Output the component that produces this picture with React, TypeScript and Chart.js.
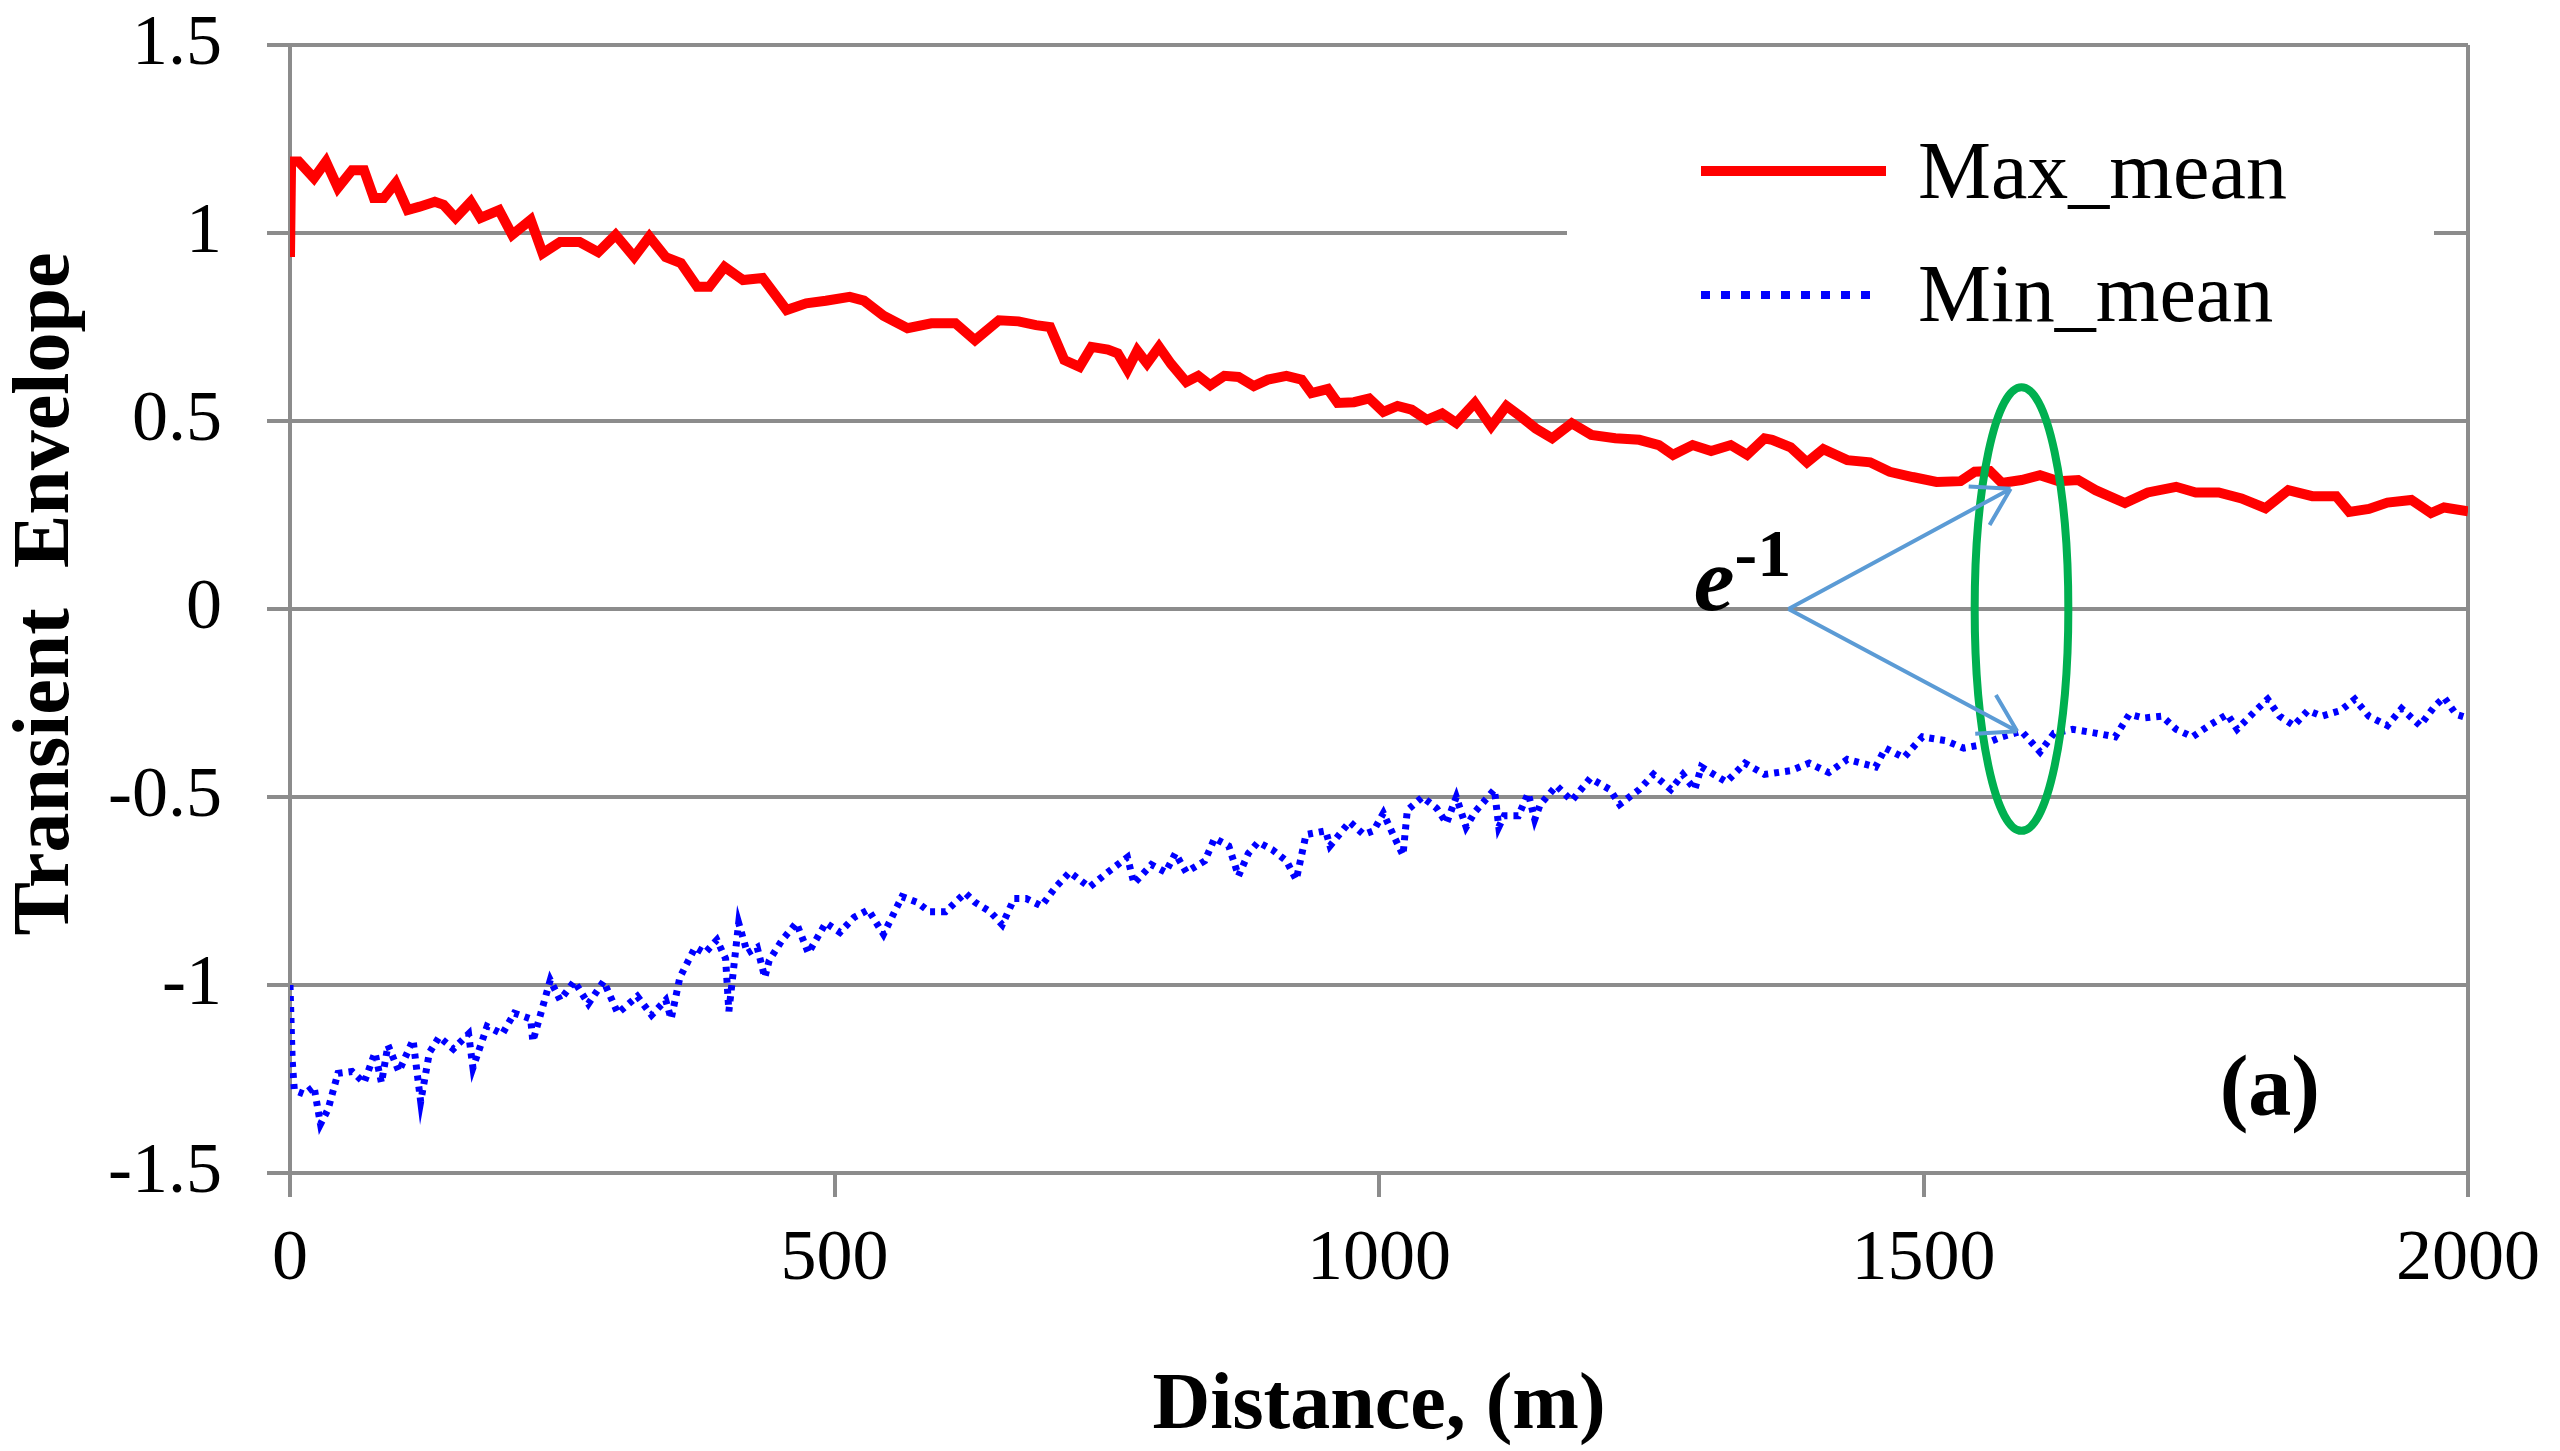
import React, { useEffect, useRef } from 'react';
import { Chart, registerables, Plugin } from 'chart.js';

Chart.register(...registerables);

// Max_mean envelope (distance in m, value)
const maxDist = [
  0, 1, 8, 22, 33, 44, 57, 68, 77, 86, 97, 108, 119, 133, 141, 152, 166, 175, 192, 204,
  221, 232, 248, 266, 283, 299, 316, 330, 345, 359, 374, 385, 399, 416, 434, 456, 474, 492, 514, 527,
  545, 567, 589, 611, 629, 651, 669, 685, 698, 711, 725, 736, 751, 760, 769, 778, 787, 798, 809, 823,
  834, 845, 858, 871, 885, 898, 915, 929, 938, 953, 962, 977, 991, 1004, 1017, 1030, 1044, 1058, 1071, 1088,
  1103, 1117, 1131, 1144, 1159, 1177, 1195, 1217, 1239, 1257, 1270, 1288, 1305, 1323, 1338, 1354, 1361, 1378, 1393, 1408,
  1430, 1451, 1469, 1490, 1512, 1534, 1547, 1561, 1572, 1590, 1607, 1624, 1642, 1658, 1685, 1706, 1732, 1750, 1771, 1792,
  1814, 1835, 1857, 1879, 1891, 1909, 1926, 1948, 1966, 1978, 2000,
];
const maxMean = [
  0.936, 1.19, 1.19, 1.146, 1.19, 1.12, 1.167, 1.167, 1.093, 1.093, 1.133, 1.061, 1.07, 1.083, 1.075, 1.04, 1.083, 1.04, 1.061, 0.995,
  1.035, 0.946, 0.976, 0.976, 0.949, 0.995, 0.936, 0.99, 0.936, 0.92, 0.857, 0.857, 0.91, 0.875, 0.88, 0.795, 0.813, 0.82, 0.83, 0.82,
  0.78, 0.747, 0.76, 0.76, 0.715, 0.768, 0.765, 0.755, 0.75, 0.662, 0.644, 0.697, 0.69, 0.68, 0.636, 0.687, 0.653, 0.697, 0.652, 0.604,
  0.62, 0.595, 0.62, 0.617, 0.593, 0.61, 0.62, 0.61, 0.574, 0.585, 0.548, 0.55, 0.56, 0.524, 0.54, 0.53, 0.503, 0.52, 0.495, 0.548,
  0.486, 0.54, 0.51, 0.48, 0.454, 0.494, 0.463, 0.454, 0.45, 0.436, 0.41, 0.436, 0.42, 0.436, 0.41, 0.454, 0.45, 0.43, 0.39, 0.425,
  0.396, 0.39, 0.365, 0.351, 0.338, 0.34, 0.365, 0.367, 0.335, 0.343, 0.356, 0.34, 0.343, 0.316, 0.282, 0.31, 0.325, 0.31, 0.31, 0.294,
  0.268, 0.316, 0.3, 0.3, 0.258, 0.266, 0.283, 0.29, 0.255, 0.27, 0.26,
];

// Min_mean envelope
const minDist = [
  0, 2, 4, 13, 22, 28, 35, 44, 57, 68, 78, 84, 90, 100, 113, 120, 128, 137, 150, 164,
  168, 181, 195, 206, 221, 223, 239, 248, 261, 274, 288, 301, 319, 332, 345, 350, 358, 372, 381, 392,
  400, 403, 412, 420, 429, 436, 440, 452, 465, 476, 492, 505, 518, 531, 545, 562, 576, 587, 602, 620,
  629, 643, 654, 665, 676, 690, 703, 716, 734, 751, 769, 775, 791, 804, 813, 823, 840, 849, 862, 871,
  880, 889, 902, 915, 924, 933, 951, 955, 973, 986, 995, 1004, 1013, 1022, 1026, 1040, 1053, 1062, 1071, 1080,
  1088, 1106, 1110, 1115, 1128, 1137, 1143, 1148, 1163, 1177, 1194, 1212, 1221, 1239, 1252, 1268, 1279, 1290, 1296, 1319,
  1336, 1354, 1378, 1395, 1413, 1430, 1456, 1465, 1482, 1499, 1520, 1537, 1555, 1572, 1590, 1607, 1620, 1637, 1658, 1676,
  1689, 1702, 1719, 1732, 1747, 1762, 1779, 1788, 1805, 1816, 1827, 1840, 1853, 1866, 1883, 1896, 1909, 1926, 1939, 1956,
  1969, 1978, 1989, 2000,
];
const minMean = [
  -1.0, -1.2, -1.28, -1.29, -1.27, -1.37, -1.33, -1.235, -1.23, -1.26, -1.18, -1.26, -1.16, -1.23, -1.146, -1.31, -1.18, -1.138, -1.17, -1.13,
  -1.22, -1.11, -1.13, -1.075, -1.09, -1.15, -0.987, -1.04, -0.99, -1.05, -0.99, -1.075, -1.03, -1.08, -1.04, -1.09, -0.98, -0.9, -0.915, -0.88,
  -0.93, -1.07, -0.835, -0.915, -0.9, -0.98, -0.935, -0.88, -0.835, -0.915, -0.835, -0.86, -0.82, -0.8, -0.865, -0.765, -0.78, -0.805, -0.805, -0.755,
  -0.78, -0.805, -0.84, -0.77, -0.77, -0.79, -0.74, -0.7, -0.74, -0.7, -0.66, -0.73, -0.68, -0.7, -0.65, -0.7, -0.67, -0.61, -0.63, -0.71,
  -0.65, -0.62, -0.64, -0.67, -0.72, -0.6, -0.59, -0.63, -0.566, -0.6, -0.59, -0.543, -0.6, -0.655, -0.535, -0.5, -0.53, -0.57, -0.5, -0.58,
  -0.54, -0.48, -0.58, -0.55, -0.55, -0.49, -0.56, -0.52, -0.47, -0.51, -0.45, -0.48, -0.52, -0.48, -0.44, -0.48, -0.44, -0.48, -0.42, -0.46,
  -0.41, -0.44, -0.43, -0.41, -0.435, -0.4, -0.42, -0.37, -0.395, -0.34, -0.35, -0.37, -0.36, -0.34, -0.325, -0.38, -0.33, -0.32, -0.33, -0.34,
  -0.28, -0.29, -0.285, -0.32, -0.34, -0.31, -0.28, -0.32, -0.27, -0.24, -0.285, -0.31, -0.27, -0.285, -0.27, -0.24, -0.285, -0.31, -0.265, -0.31,
  -0.26, -0.235, -0.28, -0.29,
];

const seriesLabels = ['Max_mean', 'Min_mean'];
const xTitle = 'Distance, (m)';
const yTitle = 'Transient  Envelope';

const SERIF = '"Liberation Serif", "Times New Roman", serif';
const GRID = '#8c8c8c';

// annotations, in data units
const ellipseAt = { x: 1590, y: 0, rx: 43, ry: 0.59 };
const arrowFrom = { x: 1376, y: 0 };
const arrowTo = [
  { x: 1580, y: 0.32 },
  { x: 1586, y: -0.325 },
];
const eLabelAt = { x: 1289, y: -0.003 };
const panelLabelAt = { x: 1818, y: -1.346 };

const decorations: Plugin<'line'> = {
  id: 'decorations',
  beforeDatasetsDraw(chart) {
    const { ctx, chartArea } = chart;
    ctx.save();
    // legend background hides the 1.0 grid line
    ctx.fillStyle = '#ffffff';
    ctx.fillRect(chartArea.left + 1277, chartArea.top + 60, 867, 270);
    // right border of the plot area
    ctx.strokeStyle = GRID;
    ctx.lineWidth = 4;
    ctx.beginPath();
    ctx.moveTo(chartArea.right, chartArea.top);
    ctx.lineTo(chartArea.right, chartArea.bottom);
    ctx.stroke();
    ctx.restore();
  },
  afterDatasetsDraw(chart) {
    const { ctx, chartArea } = chart;
    const xs = chart.scales.x;
    const ys = chart.scales.y;
    const px = (v: number) => xs.getPixelForValue(v);
    const py = (v: number) => ys.getPixelForValue(v);
    ctx.save();

    // legend
    const lx = chartArea.left + 1411;
    ctx.lineCap = 'butt';
    ctx.strokeStyle = '#ff0000';
    ctx.lineWidth = 10;
    ctx.beginPath();
    ctx.moveTo(lx, 171);
    ctx.lineTo(lx + 185, 171);
    ctx.stroke();
    ctx.strokeStyle = '#0000ff';
    ctx.lineWidth = 8;
    ctx.setLineDash([9, 11]);
    ctx.beginPath();
    ctx.moveTo(lx, 295);
    ctx.lineTo(lx + 180, 295);
    ctx.stroke();
    ctx.setLineDash([]);
    ctx.fillStyle = '#000000';
    ctx.font = `82px ${SERIF}`;
    ctx.textAlign = 'left';
    ctx.textBaseline = 'alphabetic';
    ctx.fillText(seriesLabels[0], lx + 217, 198);
    ctx.fillText(seriesLabels[1], lx + 217, 321);

    // green ellipse
    ctx.strokeStyle = '#00b050';
    ctx.lineWidth = 8;
    ctx.beginPath();
    ctx.ellipse(
      px(ellipseAt.x), py(ellipseAt.y),
      px(ellipseAt.x + ellipseAt.rx) - px(ellipseAt.x),
      py(ellipseAt.y) - py(ellipseAt.y + ellipseAt.ry),
      0, 0, Math.PI * 2,
    );
    ctx.stroke();

    // arrows
    ctx.strokeStyle = '#5b9bd5';
    ctx.lineWidth = 4;
    const sx = px(arrowFrom.x);
    const sy = py(arrowFrom.y);
    arrowTo.forEach((t) => {
      const ex = px(t.x);
      const ey = py(t.y);
      const ang = Math.atan2(ey - sy, ex - sx);
      ctx.beginPath();
      ctx.moveTo(sx, sy);
      ctx.lineTo(ex, ey);
      [-0.55, 0.55].forEach((d) => {
        ctx.moveTo(ex, ey);
        ctx.lineTo(ex - 42 * Math.cos(ang + d), ey - 42 * Math.sin(ang + d));
      });
      ctx.stroke();
    });

    // e^-1 label
    ctx.fillStyle = '#000000';
    const ex0 = px(eLabelAt.x);
    const ey0 = py(eLabelAt.y);
    ctx.font = `italic bold 92px ${SERIF}`;
    ctx.fillText('e', ex0, ey0);
    const ew = ctx.measureText('e').width;
    ctx.font = `bold 68px ${SERIF}`;
    ctx.fillText('-1', ex0 + ew, ey0 - 34);

    // panel label
    ctx.font = `bold 86px ${SERIF}`;
    ctx.textAlign = 'center';
    ctx.fillText('(a)', px(panelLabelAt.x), py(panelLabelAt.y));

    // axis titles
    ctx.font = `bold 80px ${SERIF}`;
    ctx.fillText(xTitle, (chartArea.left + chartArea.right) / 2, 1428);
    ctx.translate(68, 594);
    ctx.rotate(-Math.PI / 2);
    ctx.font = `bold 80px ${SERIF}`;
    ctx.fillText(yTitle, 0, 0);

    ctx.restore();
  },
};

const App: React.FC = () => {
  const canvasRef = useRef<HTMLCanvasElement>(null);

  useEffect(() => {
    document.body.style.margin = '0';
    if (!canvasRef.current) return;

    const chart = new Chart(canvasRef.current, {
      type: 'line',
      data: {
        datasets: [
          {
            label: seriesLabels[0],
            data: maxDist.map((x, i) => ({ x, y: maxMean[i] })),
            borderColor: '#ff0000',
            borderWidth: 10,
            pointRadius: 0,
            tension: 0,
          },
          {
            label: seriesLabels[1],
            data: minDist.map((x, i) => ({ x, y: minMean[i] })),
            borderColor: '#0000ff',
            borderWidth: 7,
            borderDash: [5, 6],
            pointRadius: 0,
            tension: 0,
          },
        ],
      },
      options: {
        animation: false,
        responsive: false,
        devicePixelRatio: 1,
        layout: { padding: { top: 45, right: 84, left: 0, bottom: 0 } },
        plugins: {
          legend: { display: false },
          tooltip: { enabled: false },
        },
        scales: {
          x: {
            type: 'linear',
            min: 0,
            max: 2000,
            afterFit: (scale) => {
              scale.height = 278;
            },
            ticks: {
              stepSize: 500,
              color: '#000000',
              padding: 20,
              maxRotation: 0,
              font: { family: SERIF, size: 72 },
              callback: (v) => String(v),
            },
            grid: {
              drawOnChartArea: false,
              drawTicks: true,
              tickLength: 24,
              color: GRID,
              lineWidth: 4,
            },
            border: { display: true, color: GRID, width: 4 },
          },
          y: {
            min: -1.5,
            max: 1.5,
            afterFit: (scale) => {
              scale.width = 290;
              scale.paddingTop = 0;
              scale.paddingBottom = 0;
            },
            ticks: {
              stepSize: 0.5,
              color: '#000000',
              padding: 45,
              font: { family: SERIF, size: 72 },
              callback: (v) => String(v),
            },
            grid: {
              color: GRID,
              lineWidth: 4,
              tickLength: 23,
            },
            border: { display: true, color: GRID, width: 4 },
          },
        },
      },
      plugins: [decorations],
    });

    return () => chart.destroy();
  }, []);

  return (
    <div style={{ width: 2560, height: 1451, background: '#ffffff' }}>
      <canvas ref={canvasRef} width={2560} height={1451} />
    </div>
  );
};

export default App;
